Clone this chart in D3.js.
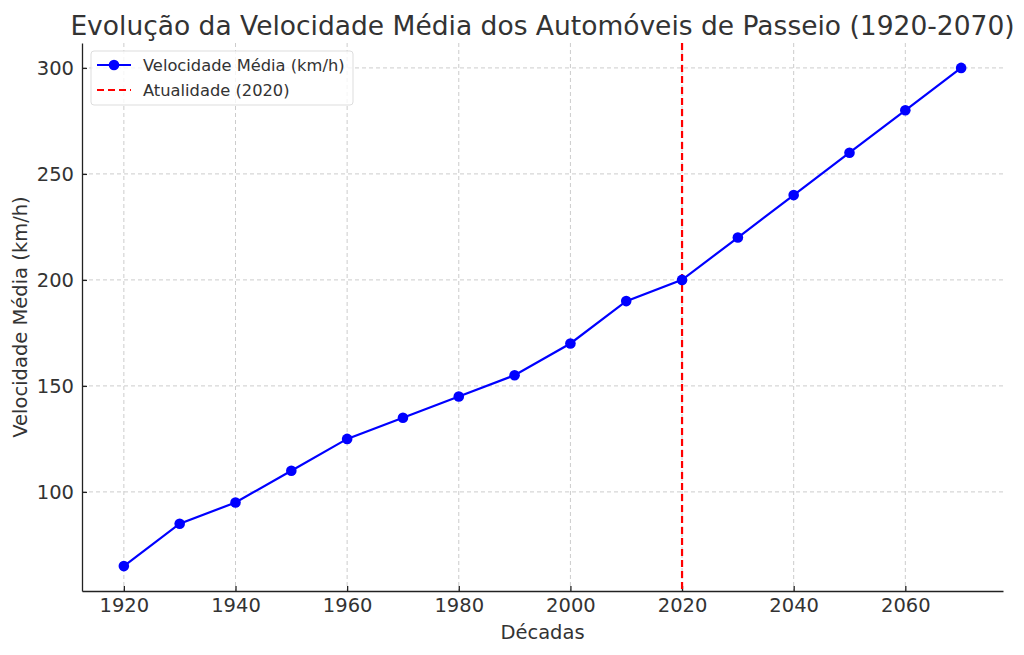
<!DOCTYPE html>
<html>
<head>
<meta charset="utf-8">
<title>Velocidade Média</title>
<script src="https://d3js.org/d3.v7.min.js"></script>
<style>
  body { margin: 0; background: #fff; }
  svg text { font-family: "DejaVu Sans", sans-serif; fill: #333; }
  .grid line { stroke: #ccc; stroke-dasharray: 4 3; stroke-width: 1; }
  .axis path, .axis line { stroke: #222; stroke-width: 1.3; }
</style>
</head>
<body>
<div id="chart"></div>
<script>
const decades = [1920, 1930, 1940, 1950, 1960, 1970, 1980, 1990, 2000, 2010, 2020, 2030, 2040, 2050, 2060, 2070];
const speeds = [65, 85, 95, 110, 125, 135, 145, 155, 170, 190, 200, 220, 240, 260, 280, 300];
const xTicks = [1920, 1940, 1960, 1980, 2000, 2020, 2040, 2060];
const yTicks = [100, 150, 200, 250, 300];
const currentYear = 2020;

const width = 1024, height = 655;
const plotLeft = 82, plotRight = 1003, plotTop = 43, plotBottom = 591;

const svg = d3.select('#chart').append('svg')
  .attr('width', width).attr('height', height);

const x = d3.scaleLinear().domain([1912.5, 2077.5]).range([plotLeft, plotRight]);
const y = d3.scaleLinear().domain([53.25, 311.75]).range([plotBottom, plotTop]);

// grid
svg.append('g').attr('class', 'grid')
  .selectAll('line').data(xTicks).join('line')
  .attr('x1', d => x(d)).attr('x2', d => x(d))
  .attr('y1', plotTop).attr('y2', plotBottom);
svg.append('g').attr('class', 'grid')
  .selectAll('line').data(yTicks).join('line')
  .attr('x1', plotLeft).attr('x2', plotRight)
  .attr('y1', d => y(d)).attr('y2', d => y(d));

// axes (ticks point inward)
const xAxis = svg.append('g').attr('class', 'axis')
  .attr('transform', `translate(0,${plotBottom})`)
  .call(d3.axisBottom(x).tickValues(xTicks).tickFormat(d3.format('d')).tickSize(-5).tickPadding(7).tickSizeOuter(0));
const yAxis = svg.append('g').attr('class', 'axis')
  .attr('transform', `translate(${plotLeft},0)`)
  .call(d3.axisLeft(y).tickValues(yTicks).tickSize(-5).tickPadding(8).tickSizeOuter(0));
svg.selectAll('.axis text').style('font-size', '19.5px').attr('fill', '#222');

// axis labels
svg.append('text').attr('x', (plotLeft + plotRight) / 2).attr('y', 639)
  .attr('text-anchor', 'middle').style('font-size', '19.5px').text('Décadas');
svg.append('text')
  .attr('transform', `translate(27,${(plotTop + plotBottom) / 2}) rotate(-90)`)
  .attr('text-anchor', 'middle').style('font-size', '19.5px').text('Velocidade Média (km/h)');

// title
svg.append('text').attr('x', (plotLeft + plotRight) / 2).attr('y', 35)
  .attr('text-anchor', 'middle').style('font-size', '26.5px').text('Evolução da Velocidade Média dos Automóveis de Passeio (1920-2070)');

// current year line
svg.append('line')
  .attr('x1', x(currentYear)).attr('x2', x(currentYear))
  .attr('y1', plotTop).attr('y2', plotBottom)
  .attr('stroke', 'red').attr('stroke-width', 2.2).attr('stroke-dasharray', '7 4');

// series
const points = decades.map((d, i) => [d, speeds[i]]);
svg.append('path').datum(points)
  .attr('fill', 'none').attr('stroke', 'blue').attr('stroke-width', 2.2)
  .attr('d', d3.line().x(d => x(d[0])).y(d => y(d[1])));
svg.append('g').selectAll('circle').data(points).join('circle')
  .attr('cx', d => x(d[0])).attr('cy', d => y(d[1])).attr('r', 5.3).attr('fill', 'blue');

// legend
const lg = svg.append('g').attr('transform', 'translate(91,51)');
lg.append('rect').attr('width', 262).attr('height', 54).attr('rx', 3)
  .attr('fill', 'white').attr('fill-opacity', 0.8).attr('stroke', '#ddd');
lg.append('line').attr('x1', 6).attr('x2', 40).attr('y1', 14).attr('y2', 14)
  .attr('stroke', 'blue').attr('stroke-width', 2.2);
lg.append('circle').attr('cx', 23).attr('cy', 14).attr('r', 5.3).attr('fill', 'blue');
lg.append('text').attr('x', 52).attr('y', 19.5).style('font-size', '16.3px').text('Velocidade Média (km/h)');
lg.append('line').attr('x1', 6).attr('x2', 40).attr('y1', 39).attr('y2', 39)
  .attr('stroke', 'red').attr('stroke-width', 2.2).attr('stroke-dasharray', '7 4');
lg.append('text').attr('x', 52).attr('y', 44.5).style('font-size', '16.3px').text('Atualidade (2020)');
</script>
</body>
</html>
